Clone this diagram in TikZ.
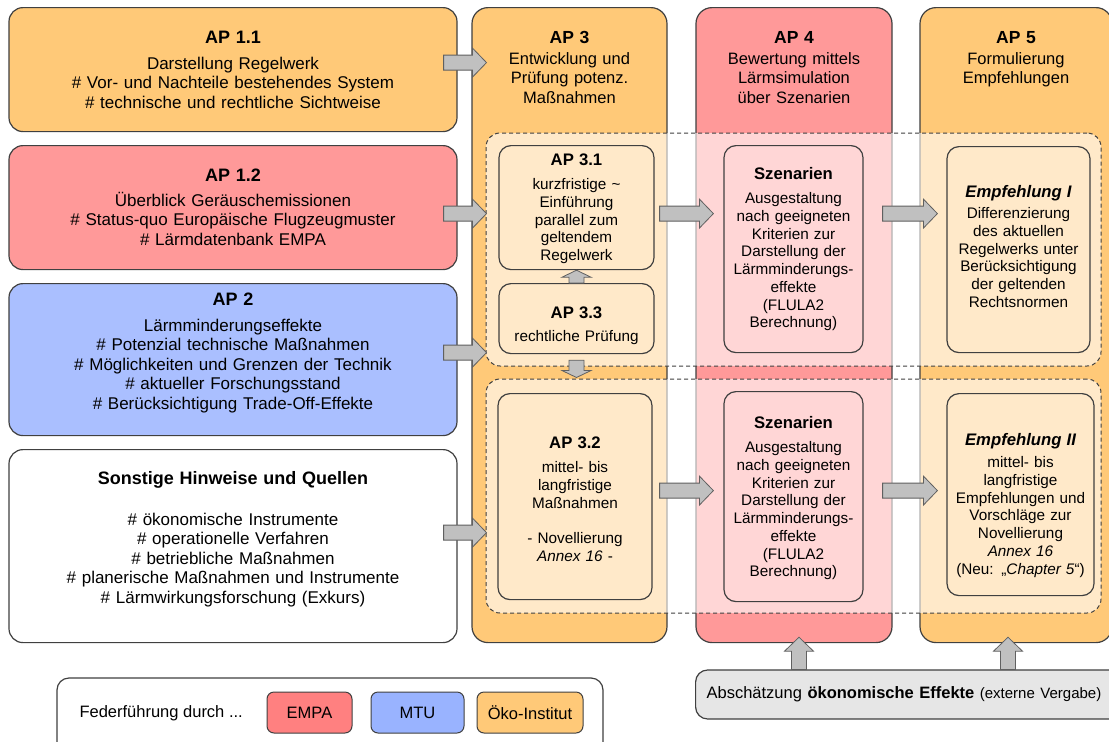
\documentclass[tikz,border=0pt]{standalone}
\usepackage{fontspec}
\setmainfont{Liberation Sans}
\usetikzlibrary{calc}

\definecolor{apgelb}{RGB}{255,201,120}
\definecolor{aprot}{RGB}{255,153,153}
\definecolor{apblau}{RGB}{170,191,255}
\definecolor{empared}{RGB}{255,128,128}
\definecolor{mtublau}{RGB}{153,179,255}
\definecolor{hellgrau}{RGB}{230,230,230}
\definecolor{pfeilgrau}{RGB}{192,192,192}
\definecolor{pfeilrand}{RGB}{96,96,96}
\definecolor{rand}{RGB}{64,64,64}

\newcommand{\linksfont}{\fontsize{17}{19.5}\selectfont}
\newcommand{\linkstitel}{\fontsize{18}{20}\selectfont\bfseries}
\newcommand{\spaltenfont}{\fontsize{16.5}{19.5}\selectfont}
\newcommand{\spaltentitel}{\fontsize{17.5}{20}\selectfont\bfseries}
\newcommand{\innenfont}{\fontsize{15.3}{17.7}\selectfont}
\newcommand{\innentitel}{\fontsize{16.7}{19}\selectfont\bfseries}
\newcommand{\legendfont}{\fontsize{16.5}{19}\selectfont}

\tikzset{
  spitze/.store in=\spitze, spitze=14pt,
  blockarr/.style={draw=pfeilrand, fill=pfeilgrau, line width=0.8pt,
    to path={(\tikztotarget) coordinate (pz) (\tikztostart) coordinate (pa)
      ($(pa)!7.5pt!90:(pz)$)
      -- ($(pz)!\spitze!(pa)!7.5pt!-90:(pa)$)
      -- ($(pz)!\spitze!(pa)!14.5pt!-90:(pa)$)
      -- (pz)
      -- ($(pz)!\spitze!(pa)!14.5pt!90:(pa)$)
      -- ($(pz)!\spitze!(pa)!7.5pt!90:(pa)$)
      -- ($(pa)!7.5pt!-90:(pz)$)
      -- cycle}},
  kasten/.style={draw=rand, line width=1.2pt, anchor=north, inner sep=0pt, align=center},
  spalte/.style={kasten, rounded corners=16pt, text height=36pt, text depth=599pt, font=\spaltenfont},
  links/.style={kasten, rounded corners=14pt, text width=448pt, font=\linksfont},
  innen/.style={kasten, rounded corners=12pt, font=\innenfont},
  bereich/.style={draw=rand, line width=1pt, dash pattern=on 4pt off 3pt, rounded corners=14pt,
    fill=white, fill opacity=0.6, minimum width=615pt, inner sep=0pt},
  marke/.style={draw=rand, line width=1pt, rounded corners=7pt, minimum height=41pt,
    inner sep=0pt, font=\legendfont},
}

\begin{document}
\begin{tikzpicture}[x=1pt,y=-1pt]
  \useasboundingbox[fill=white] (0,0) rectangle (1109,742);

  %% AP 3 bis AP 5
  \node[spalte, fill=apgelb, text width=195pt] (ap3) at (569.5,7)
    {{\spaltentitel AP 3}\\[1pt] Entwicklung und\\Prüfung potenz.\\Maßnahmen};
  \node[spalte, fill=aprot, text width=196pt] (ap4) at (794,7)
    {{\spaltentitel AP 4}\\[1pt] Bewertung mittels\\Lärmsimulation\\über Szenarien};
  \node[spalte, fill=apgelb, text width=192pt] (ap5) at (1016,7)
    {{\spaltentitel AP 5}\\[1pt] Formulierung\\Empfehlungen};

  %% AP 1.1, AP 1.2, AP 2, Sonstiges
  \node[links, fill=apgelb, text height=36pt, text depth=88pt] (ap11) at (233,7)
    {{\linkstitel AP 1.1}\\[6pt] Darstellung Regelwerk\\\# Vor- und Nachteile bestehendes System\\\# technische und rechtliche Sichtweise};
  \node[links, fill=aprot, text height=36pt, text depth=88pt] (ap12) at (233,145)
    {{\linkstitel AP 1.2}\\[5pt] Überblick Geräuschemissionen\\\# Status-quo Europäische Flugzeugmuster\\\# Lärmdatenbank EMPA};
  \node[links, fill=apblau, text height=22pt, text depth=130pt] (ap2) at (233,283)
    {{\linkstitel AP 2}\\[6pt] Lärmminderungseffekte\\\# Potenzial technische Maßnahmen\\\# Möglichkeiten und Grenzen der Technik\\\# aktueller Forschungsstand\\\# Berücksichtigung Trade-Off-Effekte};
  \node[links, fill=white, text height=35pt, text depth=158pt] (sonst) at (233,449)
    {{\linkstitel Sonstige Hinweise und Quellen}\\[21pt] \# ökonomische Instrumente\\\# operationelle Verfahren\\\# betriebliche Maßnahmen\\\# planerische Maßnahmen und Instrumente\\\# Lärmwirkungsforschung (Exkurs)};

  %% kurz- und langfristig
  \node[bereich, minimum height=233pt] (oben) at (793.5,249.5) {};
  \node[bereich, minimum height=234pt] (unten) at (793.5,496) {};

  \node[innen, text width=155pt, text height=19.5pt, text depth=104.5pt] (ap31) at (576.5,145)
    {{\innentitel AP 3.1}\\[7pt] kurzfristige \textasciitilde\\Einführung\\parallel zum\\geltendem\\Regelwerk};
  \node[innen, text width=155pt, text height=34.5pt, text depth=35.5pt] (ap33) at (576.5,283)
    {{\innentitel AP 3.3}\\[6pt] rechtliche Prüfung};
  \node[innen, text width=154pt, text height=54.5pt, text depth=151.5pt] (ap32) at (575,393)
    {{\innentitel AP 3.2}\\[7pt] mittel- bis\\langfristige\\Maßnahmen\\[17.7pt] - Novellierung\\\textit{Annex 16} -};
  \node[innen, text width=139pt, text height=33.5pt, text depth=173.5pt] (sz1) at (793.5,145)
    {{\innentitel Szenarien}\\[7pt] Ausgestaltung\\nach geeigneten\\Kriterien zur\\Darstellung der\\Lärmminderungs-\\effekte\\(FLULA2\\Berechnung)};
  \node[innen, text width=139pt, text height=36.5pt, text depth=173.5pt] (sz2) at (793.5,391)
    {{\innentitel Szenarien}\\[7pt] Ausgestaltung\\nach geeigneten\\Kriterien zur\\Darstellung der\\Lärmminderungs-\\effekte\\(FLULA2\\Berechnung)};
  \node[innen, text width=143pt, text height=50.5pt, text depth=155.5pt] (emp1) at (1018.5,146)
    {{\innentitel\itshape Empfehlung I}\\[4pt] Differenzierung\\des aktuellen\\Regelwerks unter\\Berücksichtigung\\der geltenden\\Rechtsnormen};
  \node[innen, text width=147pt, text height=51.5pt, text depth=150.5pt] (emp2) at (1020.5,393)
    {{\innentitel\itshape Empfehlung II}\\[5pt] mittel- bis\\langfristige\\Empfehlungen und\\Vorschläge zur\\Novellierung\\\textit{Annex 16}\\(Neu: „\textit{Chapter 5}“)};

  %% Legende
  \node[draw=rand, line width=1.2pt, rounded corners=12pt, fill=white, minimum width=546pt,
    minimum height=92pt, inner sep=0pt] (legende) at (330,724) {};
  \node[anchor=west, font=\legendfont] (federtext) at (76,713) {Federführung durch ...};
  \node[marke, fill=empared, minimum width=85pt] (empa) at (309.5,712.5) {EMPA};
  \node[marke, fill=mtublau, minimum width=93pt] (mtu) at (417.5,712.5) {MTU};
  \node[marke, fill=apgelb, minimum width=106pt] (oeko) at (530,712.5) {Öko-Institut};

  \node[draw=rand, line width=1.2pt, rounded corners=12pt, fill=hellgrau, anchor=west,
    minimum height=49pt, text width=430pt, inner xsep=11pt, align=left,
    font=\fontsize{16.5}{19}\selectfont] (absch) at (695,694.5)
    {Abschätzung \textbf{ökonomische Effekte} {\fontsize{15}{17}\selectfont (externe Vergabe)}};

  %% Pfeile
  \draw[blockarr] ($(ap11.east)+(-14,-7)$) to ($(ap11.east -| oben.west)+(1,-7)$);
  \draw[blockarr] ($(ap12.east)+(-14,6)$) to ($(ap12.east -| oben.west)+(1,6)$);
  \draw[blockarr] ($(ap2.east)+(-14,-7)$) to ($(ap2.east -| oben.west)+(1,-7)$);
  \draw[blockarr] ($(sonst.east)+(-14,-13.5)$) to ($(sonst.east -| unten.west)+(1,-13.5)$);

  \draw[blockarr] ($(ap31.east)+(5,6)$) to ($(ap31.east -| sz1.west)+(-10,6)$);
  \draw[blockarr] ($(sz1.east)+(19,-35.5)$) to ($(sz1.east -| emp1.west)+(-9,-35.5)$);
  \draw[blockarr] ($(ap32.east)+(7,-6)$) to ($(ap32.east -| sz2.west)+(-10,-6)$);
  \draw[blockarr] ($(sz2.east)+(19,-6)$) to ($(sz2.east -| emp2.west)+(-9,-6)$);

  \draw[blockarr, spitze=7pt] (ap33.north) to (ap31.south);
  \draw[blockarr, spitze=7pt] ($(ap33.south)+(0,6)$) to ($(unten.north -| ap33.south)+(0,-1)$);

  \draw[blockarr] ($(absch.north -| ap4.south)+(5,0)$) to ($(ap4.south)+(5,-6)$);
  \draw[blockarr] ($(absch.north -| ap5.south)+(-8,0)$) to ($(ap5.south)+(-8,-6)$);
\end{tikzpicture}
\end{document}
